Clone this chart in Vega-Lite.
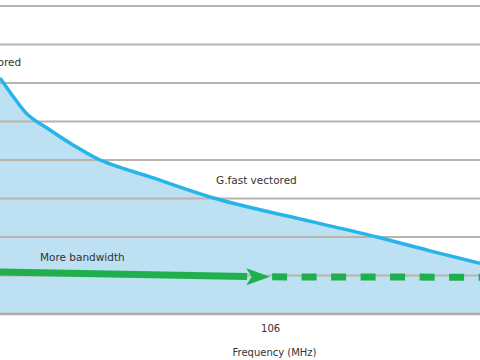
{
  "$schema": "https://vega.github.io/schema/vega-lite/v6.json",
  "width": 480,
  "height": 314,
  "autosize": "none",
  "padding": {"left": 0, "top": 0, "right": 0, "bottom": 46},
  "background": "white",
  "config": {"view": {"stroke": null}, "font": "DejaVu Sans"},
  "datasets": {
    "curve": [
      {"f": 0, "cap": 6.13},
      {"f": 4.71, "cap": 5.69},
      {"f": 9.81, "cap": 5.25},
      {"f": 19.63, "cap": 4.78},
      {"f": 29.44, "cap": 4.36},
      {"f": 39.25, "cap": 4.0},
      {"f": 43.18, "cap": 3.9},
      {"f": 58.88, "cap": 3.56},
      {"f": 82.43, "cap": 3.04},
      {"f": 117.75, "cap": 2.47},
      {"f": 147.97, "cap": 2.0},
      {"f": 168.77, "cap": 1.64},
      {"f": 188.4, "cap": 1.32}
    ],
    "grid": [{"v": 1}, {"v": 2}, {"v": 3}, {"v": 4}, {"v": 5}, {"v": 6}, {"v": 7}, {"v": 8}],
    "solid": [{"f": 0, "cap": 1.09}, {"f": 97, "cap": 0.975}],
    "dashed": [{"f": 106.8, "cap": 0.965}, {"f": 188.4, "cap": 0.955}],
    "arrow": [{"f": 101.3, "cap": 0.97}],
    "leftLabels": [
      {"f": 84.8, "cap": 3.45, "t": "G.fast vectored"},
      {"f": 15.7, "cap": 1.455, "t": "More bandwidth"}
    ],
    "rightLabels": [
      {"f": 8.3, "cap": 6.53, "t": "VDSL2 vectored"}
    ]
  },
  "encoding": {
    "x": {
      "field": "f", "type": "quantitative",
      "scale": {"domain": [0, 188.4], "nice": false, "zero": false},
      "axis": {
        "values": [106], "ticks": false, "tickSize": 0, "domain": false, "grid": false,
        "labelPadding": 9, "labelFontSize": 10, "labelColor": "#333333",
        "title": "Frequency (MHz)", "titleFontSize": 10, "titleFontWeight": "normal",
        "titleColor": "#333333", "titleX": 274, "titlePadding": 14
      }
    },
    "y": {
      "field": "cap", "type": "quantitative",
      "scale": {"domain": [0, 8.156], "nice": false},
      "axis": null
    }
  },
  "layer": [
    {
      "data": {"name": "curve"},
      "mark": {"type": "area", "color": "#bde0f3", "clip": true, "interpolate": "monotone"}
    },
    {
      "data": {"name": "grid"},
      "mark": {"type": "rule", "color": "#bab3ac", "strokeWidth": 2},
      "encoding": {"y": {"field": "v", "type": "quantitative"}, "x": null}
    },
    {
      "data": {"values": [{"v": 0}]},
      "mark": {"type": "rule", "color": "#b9a7a5", "strokeWidth": 2.5},
      "encoding": {"y": {"field": "v", "type": "quantitative"}, "x": null}
    },
    {
      "data": {"name": "curve"},
      "mark": {"type": "line", "color": "#27b4e8", "strokeWidth": 3.5, "clip": true, "interpolate": "monotone"}
    },
    {
      "data": {"name": "solid"},
      "mark": {"type": "line", "color": "#1fb04b", "strokeWidth": 7, "clip": true}
    },
    {
      "data": {"name": "dashed"},
      "mark": {"type": "line", "color": "#1fb04b", "strokeWidth": 7, "strokeDash": [15, 14.5], "clip": true}
    },
    {
      "data": {"name": "arrow"},
      "mark": {"type": "point", "shape": "M-1,-0.72L1,0L-1,0.72L-0.55,0Z", "size": 560, "filled": true, "color": "#1fb04b", "opacity": 1}
    },
    {
      "data": {"name": "leftLabels"},
      "mark": {"type": "text", "fontSize": 10.5, "color": "#333333", "baseline": "middle", "align": "left", "clip": true},
      "encoding": {"text": {"field": "t"}}
    },
    {
      "data": {"name": "rightLabels"},
      "mark": {"type": "text", "fontSize": 10.5, "color": "#333333", "baseline": "middle", "align": "right", "clip": true},
      "encoding": {"text": {"field": "t"}}
    }
  ]
}
